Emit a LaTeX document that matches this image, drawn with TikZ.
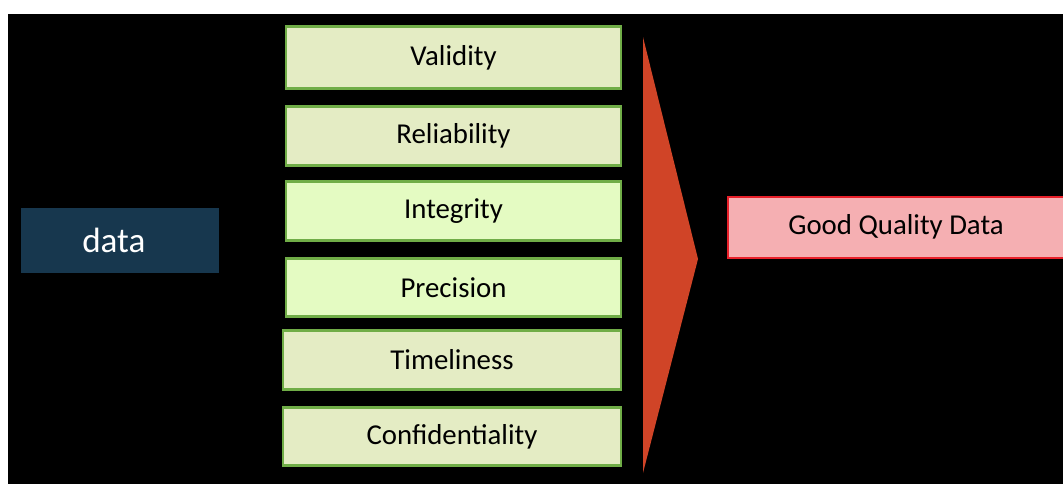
\documentclass[tikz,border=0pt]{standalone}
\usepackage{fontspec}
\usepackage{tikz}
\setmainfont{Carlito}
\definecolor{QualGreen}{HTML}{70AD47}
\definecolor{QualPale}{HTML}{E4ECC4}
\definecolor{QualLime}{HTML}{E4FBC2}
\definecolor{QualRed}{HTML}{E8202A}
\definecolor{QualPink}{HTML}{F5AFB2}
\definecolor{QualNavy}{HTML}{17374E}
\definecolor{QualArrow}{HTML}{D04427}
\begin{document}
\begin{tikzpicture}[x = 0.02cm, y = -0.02cm]
                    \useasboundingbox (0, 0) rectangle (1063, 484);
                    \fill[black] (8, 14) rectangle (1063, 484);

                    \coordinate (VA) at (453.5,  57.5);
                    \coordinate (RE) at (453.5, 136.0);
                    \coordinate (IN) at (453.5, 211.0);
                    \coordinate (PR) at (453.5, 287.5);
                    \coordinate (TI) at (452.0, 360.0);
                    \coordinate (CO) at (452.0, 436.5);

                    \coordinate (top) at (643,  37);
                    \coordinate (tip) at (698, 259);
                    \coordinate (bot) at (643, 473);

                    \fill[QualArrow] (top) -- (tip) -- (bot) -- cycle;

                    \node at (120, 240.5) [
                        fill         = QualNavy,
                        text         = white,
                        minimum width  = 3.96cm,
                        minimum height = 1.3cm,
                        font         = \fontsize{20}{23}\selectfont,
                    ] (data) {\hspace*{-7pt}data};

                    \begin{scope}[
                        every node/.style = {
                            shape          = rectangle,
                            draw           = QualGreen,
                            line width     = 1.5pt,
                            minimum width  = 6.7cm,
                            minimum height = 1.17cm,
                            inner sep      = 0pt,
                            font           = \fontsize{16.4}{19}\selectfont,
                        }
                    ]
                        \node at (VA) [fill = QualPale, minimum height = 1.24cm] (validity)        {Validity};
                        \node at (RE) [fill = QualPale] (reliability)     {Reliability};
                        \node at (IN) [fill = QualLime] (integrity)       {Integrity};
                        \node at (PR) [fill = QualLime] (precision)       {Precision};
                        \node at (TI) [fill = QualPale, minimum width = 6.76cm] (timeliness)      {Timeliness};
                        \node at (CO) [fill = QualPale, minimum width = 6.76cm] (confidentiality) {Confidentiality};
                    \end{scope}

                    \begin{scope}
                        \clip (8, 14) rectangle (1063, 484);
                        \node at (896, 227.5) [
                            draw           = QualRed,
                            fill           = QualPink,
                            line width     = 1.4pt,
                            minimum width  = 6.72cm,
                            minimum height = 1.22cm,
                            font           = \fontsize{16.4}{19}\selectfont,
                        ] (good) {\raisebox{3pt}{Good Quality Data}};
                    \end{scope}
\end{tikzpicture}
\end{document}
